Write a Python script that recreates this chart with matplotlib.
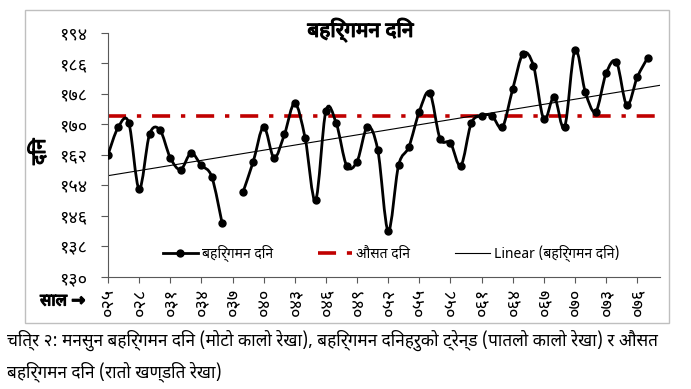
import numpy as np
import matplotlib
matplotlib.use("Agg")
import matplotlib.pyplot as plt
import matplotlib.patheffects as pe
from matplotlib import font_manager
from matplotlib.ft2font import FT2Font
from matplotlib.path import Path
from matplotlib.patches import PathPatch, Rectangle
from matplotlib.lines import Line2D
from matplotlib.ticker import FuncFormatter

# monsoon withdrawal days per year (BS), 2037 has no value
YEARS = list(range(2025, 2078))
DAYS = [162, 169.3, 170.4, 153, 167.3, 168.5, 161.2, 158.1, 162.4, 159.2,
        156.2, 144, np.nan, 152.1, 160.2, 169.3, 161.2, 167.3, 175.5, 166.3,
        150, 173.5, 170.2, 159.1, 160.2, 169.3, 163.2, 142, 159.2, 164.1,
        173.3, 178.3, 166.2, 165.1, 159.1, 170.2, 172.2, 172.2, 169.2, 179.2,
        188.5, 185.3, 171.3, 177.2, 169.2, 189.5, 178.4, 173.3, 183.3, 186.3,
        175, 182.3, 187.4]
MEAN_DAY = 172.1
X_TICKS = list(range(2025, 2077, 3))
Y_TICKS = list(range(130, 195, 8))

TITLE = "बहिर्गमन दिन"
LABELS = ["बहिर्गमन दिन", "औसत दिन", "Linear (बहिर्गमन दिन)"]
CAPTION = ["चित्र २: मनसुन बहिर्गमन दिन (मोटो कालो रेखा), बहिर्गमन दिनहरुको ट्रेन्ड (पातलो कालो रेखा) र औसत",
           "बहिर्गमन दिन (रातो खण्डित रेखा)"]

DEVA_DIGITS = str.maketrans("0123456789", "०१२३४५६७८९")
BOLD = [pe.withStroke(linewidth=0.9, foreground='black')]


def find_devanagari_font():
    found = []
    for f in font_manager.fontManager.ttflist:
        try:
            if 0x0915 in FT2Font(f.fname).get_charmap():
                found.append(f.name)
        except Exception:
            pass
    for pref in ["Noto Sans Devanagari", "Lohit Devanagari", "FreeSans",
                 "Noto Serif Devanagari", "Mukta", "Hind"]:
        if pref in found:
            return pref
    return found[0] if found else "DejaVu Sans"


def smooth_path(xs, ys):
    # excel-like smoothed line: cubic bezier through the points
    pts = np.column_stack([xs, ys])
    verts = [pts[0]]
    codes = [Path.MOVETO]
    n = len(pts)
    for i in range(n - 1):
        p0 = pts[max(i - 1, 0)]
        p1 = pts[i]
        p2 = pts[i + 1]
        p3 = pts[min(i + 2, n - 1)]
        c1 = p1 + (p2 - p0) / 6
        c2 = p2 - (p3 - p1) / 6
        verts += [c1, c2, p2]
        codes += [Path.CURVE4] * 3
    return Path(verts, codes)


def main():
    deva = find_devanagari_font()
    plt.rcParams['font.family'] = [deva, 'DejaVu Sans']

    fig = plt.figure(figsize=(6.91, 3.89), dpi=100)
    ax = fig.add_axes([0.1563, 0.2887, 0.7989, 0.6273])

    fig.patches.append(Rectangle((0.0362, 0.1697), 0.932, 0.8046, transform=fig.transFigure,
                                 fill=False, edgecolor='#bfbfbf', lw=1))

    x = np.array(YEARS, dtype=float)
    y = np.array(DAYS, dtype=float)

    # split into runs without gaps and draw smoothed
    ok = ~np.isnan(y)
    breaks = np.where(np.diff(ok.astype(int)) != 0)[0] + 1
    for seg in np.split(np.arange(len(x)), breaks):
        if ok[seg[0]] and len(seg) > 1:
            ax.add_patch(PathPatch(smooth_path(x[seg], y[seg]), fill=False,
                                   edgecolor='black', lw=2.0, zorder=3))
    ax.plot(x, y, ls='none', marker='o', ms=5, color='black', zorder=4)

    ax.axhline(MEAN_DAY, color='#c00000', lw=2.6, dashes=(5, 3, 1.2, 3), zorder=2)

    coef = np.polyfit(x[ok], y[ok], 1)
    xt = np.array([2025, 2078.2])
    ax.plot(xt, np.polyval(coef, xt), color='black', lw=0.8, zorder=2)

    ax.set_xlim(2025, 2078.2)
    ax.set_ylim(130, 194)
    ax.set_xticks(X_TICKS)
    ax.set_yticks(Y_TICKS)
    ax.xaxis.set_major_formatter(FuncFormatter(lambda v, p: f"{int(v) % 1000:03d}".translate(DEVA_DIGITS)))
    ax.yaxis.set_major_formatter(FuncFormatter(lambda v, p: f"{int(v)}".translate(DEVA_DIGITS)))
    ax.tick_params(axis='x', labelrotation=90, labelsize=13, length=4, pad=4, color='#595959')
    ax.tick_params(axis='y', labelsize=13, length=5, pad=10, color='#595959')

    for side in ['top', 'right']:
        ax.spines[side].set_visible(False)
    for side in ['left', 'bottom']:
        ax.spines[side].set_color('#595959')

    fig.text(0.522, 0.923, TITLE, ha='center', va='center', fontsize=15,
             fontweight='bold', path_effects=BOLD)
    fig.text(0.058, 0.61, "दिन", ha='center', va='center', rotation=90, fontsize=14,
             fontweight='bold', path_effects=BOLD)
    fig.text(0.058, 0.225, "साल →", ha='left', va='center', fontsize=12,
             fontweight='bold', path_effects=BOLD)

    handles = [Line2D([], [], color='black', lw=2, marker='o', ms=5),
               Line2D([], [], color='#c00000', lw=2.6, dashes=(5, 3)),
               Line2D([], [], color='black', lw=0.8)]
    ax.legend(handles, LABELS, loc='center', bbox_to_anchor=(0.513, 0.097), ncol=3,
              frameon=False, fontsize=10, handlelength=2.5, columnspacing=3.2,
              numpoints=1, handletextpad=0.3)

    fig.text(0.01, 0.125, CAPTION[0], ha='left', va='center', fontsize=12.4)
    fig.text(0.01, 0.045, CAPTION[1], ha='left', va='center', fontsize=12.4)

    fig.savefig("out.png", dpi=100)


if __name__ == '__main__':
    main()
